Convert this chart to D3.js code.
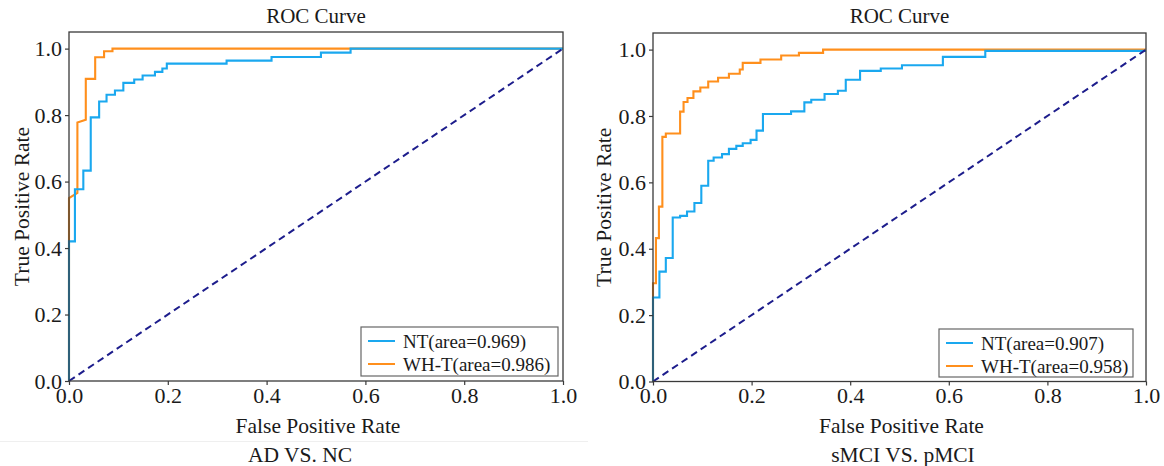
<!DOCTYPE html>
<html>
<head>
<meta charset="utf-8">
<script src="https://cdn.jsdelivr.net/npm/d3@7"></script>
<style>
  html, body { margin: 0; padding: 0; background: #fff; }
  svg text { font-family: "Liberation Serif", "Times New Roman", serif; fill: #1a1a1a; }
</style>
</head>
<body>
<svg id="chart" width="1164" height="466"></svg>
<script>
// ---------------- DATA ----------------
const xTicks = [0, 0.2, 0.4, 0.6, 0.8, 1.0];
const yTicks = [0, 0.2, 0.4, 0.6, 0.8, 1.0];
const seriesNames = ["NT", "WH-T"];

// Panel 1: AD VS. NC
const adAuc = [0.969, 0.986];
const adNtFpr = [0, 0, 0.012, 0.012, 0.029, 0.029, 0.044, 0.044, 0.061, 0.061, 0.076, 0.076, 0.093, 0.093, 0.11, 0.11, 0.132, 0.132, 0.149, 0.149, 0.174, 0.174, 0.189, 0.189, 0.198, 0.198, 0.319, 0.319, 0.41, 0.41, 0.51, 0.51, 0.57, 0.57, 1];
const adNtTpr = [0, 0.42, 0.42, 0.577, 0.577, 0.633, 0.633, 0.793, 0.793, 0.841, 0.841, 0.861, 0.861, 0.874, 0.874, 0.897, 0.897, 0.907, 0.907, 0.919, 0.919, 0.93, 0.93, 0.94, 0.94, 0.955, 0.955, 0.964, 0.964, 0.975, 0.975, 0.988, 0.988, 1, 1];
const adWhFpr = [0, 0, 0.017, 0.017, 0.034, 0.034, 0.053, 0.053, 0.071, 0.071, 0.088, 0.088, 1];
const adWhTpr = [0, 0.55, 0.566, 0.778, 0.786, 0.909, 0.909, 0.974, 0.974, 0.992, 0.992, 1, 1];

// Panel 2: sMCI VS. pMCI
const mciAuc = [0.907, 0.958];
const mciNtFpr = [0, 0, 0.013, 0.013, 0.026, 0.026, 0.040, 0.040, 0.055, 0.055, 0.069, 0.069, 0.084, 0.084, 0.098, 0.098, 0.112, 0.112, 0.123, 0.123, 0.14, 0.14, 0.154, 0.154, 0.169, 0.169, 0.182, 0.182, 0.198, 0.198, 0.21, 0.21, 0.223, 0.223, 0.28, 0.28, 0.307, 0.307, 0.321, 0.321, 0.348, 0.348, 0.375, 0.375, 0.391, 0.391, 0.42, 0.42, 0.462, 0.462, 0.505, 0.505, 0.588, 0.588, 0.674, 0.674, 1];
const mciNtTpr = [0, 0.253, 0.253, 0.331, 0.331, 0.372, 0.372, 0.494, 0.494, 0.499, 0.499, 0.512, 0.512, 0.538, 0.538, 0.59, 0.59, 0.665, 0.665, 0.675, 0.675, 0.685, 0.685, 0.701, 0.701, 0.71, 0.71, 0.718, 0.718, 0.728, 0.728, 0.756, 0.756, 0.806, 0.806, 0.814, 0.814, 0.841, 0.841, 0.849, 0.849, 0.866, 0.866, 0.876, 0.876, 0.909, 0.909, 0.936, 0.936, 0.943, 0.943, 0.953, 0.953, 0.978, 0.978, 0.996, 0.996];
const mciWhFpr = [0, 0, 0.006, 0.006, 0.012, 0.012, 0.019, 0.019, 0.026, 0.026, 0.055, 0.055, 0.062, 0.062, 0.070, 0.070, 0.082, 0.082, 0.096, 0.096, 0.112, 0.112, 0.132, 0.132, 0.154, 0.154, 0.176, 0.176, 0.182, 0.182, 0.218, 0.218, 0.26, 0.26, 0.296, 0.296, 0.345, 0.345, 1];
const mciWhTpr = [0, 0.296, 0.296, 0.432, 0.432, 0.527, 0.527, 0.737, 0.737, 0.747, 0.747, 0.813, 0.813, 0.842, 0.842, 0.854, 0.854, 0.874, 0.874, 0.886, 0.886, 0.904, 0.904, 0.915, 0.915, 0.927, 0.927, 0.94, 0.94, 0.96, 0.96, 0.97, 0.97, 0.982, 0.982, 0.99, 0.99, 1, 1];

const chanceLine = [0, 1];

// ---------------- STYLE / LAYOUT ----------------
const colors = ["#1aa8ef", "#ff8f1c"];
const diagColor = "#1d1d8c";
const axisColor = "#3a3a3a";

const panels = [
  { title: "ROC Curve", caption: "AD VS. NC", x0: 69, x1: 563, yTop: 32, y0: 381, yLabelX: 21, capX: 300,
    legend: { x: 361, y: 327, w: 197, h: 49 }, auc: adAuc,
    series: [[adNtFpr, adNtTpr], [adWhFpr, adWhTpr]], sep: true },
  { title: "ROC Curve", caption: "sMCI VS. pMCI", x0: 653, x1: 1146, yTop: 33, y0: 381.5, yLabelX: 603, capX: 903,
    legend: { x: 939, y: 329, w: 194, h: 48 }, auc: mciAuc,
    series: [[mciNtFpr, mciNtTpr], [mciWhFpr, mciWhTpr]], sep: false }
];

const svg = d3.select("#chart");

panels.forEach(p => {
  const x = d3.scaleLinear().domain([0, 1]).range([p.x0, p.x1]);
  const y = d3.scaleLinear().domain([0, 1]).range([p.y0, p.y0 - (p.y0 - p.yTop) / 1.05]);
  const yTopVal = 1.05;
  const g = svg.append("g");

  // curves: WH-T first, NT on top (NT hides WH-T where they overlap at the top)
  const line = d3.line().x(d => x(d[0])).y(d => y(d[1]));
  [1, 0].forEach(i => {
    const s = p.series[i];
    const pts = s[0].map((f, k) => [f, s[1][k]]);
    g.append("path").attr("d", line(pts)).attr("fill", "none")
      .attr("stroke", colors[i]).attr("stroke-width", 2.1)
      .attr("stroke-linejoin", "miter");
  });
  // chance diagonal
  g.append("path").attr("d", line(chanceLine.map(v => [v, v])))
    .attr("fill", "none").attr("stroke", diagColor).attr("stroke-width", 2)
    .attr("stroke-dasharray", "7,4.5");

  // frame
  g.append("rect").attr("x", p.x0).attr("y", y(yTopVal))
    .attr("width", p.x1 - p.x0).attr("height", p.y0 - y(yTopVal))
    .attr("fill", "none").attr("stroke", axisColor).attr("stroke-width", 1.3);

  // axes
  const xAxis = d3.axisBottom(x).tickValues(xTicks).tickFormat(d3.format(".1f")).tickSize(4).tickPadding(2);
  const gx = g.append("g").attr("transform", `translate(0,${p.y0})`).call(xAxis);
  gx.select(".domain").remove();
  gx.selectAll("line").attr("stroke", axisColor).attr("stroke-width", 1.2);
  gx.selectAll("text").attr("font-size", 22).attr("dy", "0.72em").style("font-family", "'Liberation Serif', serif").attr("fill", "#1a1a1a");

  const yAxis = d3.axisLeft(y).tickValues(yTicks).tickFormat(d3.format(".1f")).tickSize(4).tickPadding(3);
  const gy = g.append("g").attr("transform", `translate(${p.x0},0)`).call(yAxis);
  gy.select(".domain").remove();
  gy.selectAll("line").attr("stroke", axisColor).attr("stroke-width", 1.2);
  gy.selectAll("text").attr("font-size", 22).style("font-family", "'Liberation Serif', serif").attr("fill", "#1a1a1a");

  const cx = (p.x0 + p.x1) / 2;
  // title
  g.append("text").attr("x", cx).attr("y", 23).attr("text-anchor", "middle")
    .attr("font-size", 21).text(p.title);
  // x label
  g.append("text").attr("x", cx + 2).attr("y", 433).attr("text-anchor", "middle")
    .attr("font-size", 21.5).text("False Positive Rate");
  // y label
  g.append("text").attr("transform", `translate(${p.yLabelX},${(p.yTop + p.y0) / 2}) rotate(-90)`)
    .attr("text-anchor", "middle").attr("dy", "0.35em").attr("font-size", 21.5).text("True Positive Rate");
  // caption
  g.append("text").attr("x", p.capX).attr("y", 462).attr("text-anchor", "middle")
    .attr("font-size", 21.5).text(p.caption);

  if (p.sep) {
    g.append("line").attr("x1", 0).attr("x2", 588).attr("y1", 441.5).attr("y2", 441.5)
      .attr("stroke", "#efefef").attr("stroke-width", 1);
  }

  // legend
  const L = p.legend;
  const lg = g.append("g");
  lg.append("rect").attr("x", L.x).attr("y", L.y).attr("width", L.w).attr("height", L.h)
    .attr("fill", "#fff").attr("stroke", "#666").attr("stroke-width", 1.2);
  seriesNames.forEach((n, i) => {
    const ry = L.y + 14 + i * 23;
    lg.append("line").attr("x1", L.x + 7).attr("x2", L.x + 34).attr("y1", ry).attr("y2", ry)
      .attr("stroke", colors[i]).attr("stroke-width", 2);
    lg.append("text").attr("x", L.x + 42).attr("y", ry).attr("dy", "0.35em")
      .attr("font-size", 19).text(`${n}(area=${p.auc[i].toFixed(3)})`);
  });
});
</script>
</body>
</html>
